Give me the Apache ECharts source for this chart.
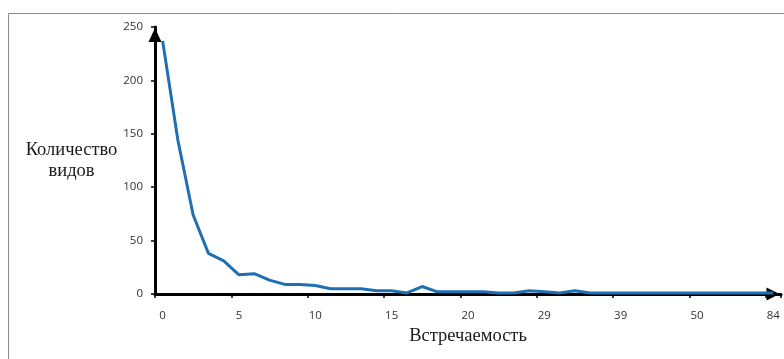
<!DOCTYPE html>
<html><head><meta charset="utf-8">
<script src="https://cdn.jsdelivr.net/npm/echarts@6/dist/echarts.min.js"></script>
<style>html,body{margin:0;padding:0;background:#fff}#c{width:784px;height:359px}</style>
</head><body><div id="c"></div>
<script>
var categories = ['0','1','2','3','4','5','6','7','8','9','10','11','12','13','14','15','16','17','18','19','20',
  '21','23','25','27','29','31','33','35','37','39','41','43','45','48','50','55','60','65','70','84'];
var values = [237,144,74,38,31,18,19,13,9,9,8,5,5,5,3,3,1,7,2,2,2,2,1,1,3,2,1,3,1,1,1,1,1,1,1,1,1,1,1,1,1];
var yTicks = [0,50,100,150,200,250];
var xName = 'Встречаемость';
var yName = 'Количество\nвидов';

var chart = echarts.init(document.getElementById('c'), null, {renderer:'canvas'});
chart.setOption({
  animation:false,
  backgroundColor:'#ffffff',
  graphic:[{type:'rect', shape:{x:8.5,y:13.5,width:800,height:400}, style:{fill:'none', stroke:'#8a8a8a', lineWidth:1}, silent:true}],
  grid:{left:155, right:3, top:27, bottom:65, containLabel:false},
  xAxis:{
    type:'category', data:categories, boundaryGap:true,
    axisLine:{show:true, lineStyle:{color:'#000', width:3}, symbol:['none','triangle'], symbolSize:[13,13], symbolOffset:[0,-8]},
    axisTick:{show:true, interval:4, length:4, lineStyle:{color:'#000', width:1.5}},
    axisLabel:{interval:4, margin:16, color:'#333', fontFamily:'Open Sans, Liberation Sans, sans-serif', fontSize:11.5},
    name:xName, nameLocation:'middle', nameGap:32,
    nameTextStyle:{fontFamily:'Liberation Serif, Times New Roman, serif', fontSize:18.5, color:'#1a1a1a'},
    splitLine:{show:false}
  },
  yAxis:{
    type:'value', min:yTicks[0], max:yTicks[yTicks.length-1], interval:50,
    axisLine:{show:true, lineStyle:{color:'#000', width:3}, symbol:['none','triangle'], symbolSize:[13,14], symbolOffset:[0,-8]},
    axisTick:{show:true, length:4, lineStyle:{color:'#000', width:1.5}},
    axisLabel:{margin:12, color:'#333', fontFamily:'Open Sans, Liberation Sans, sans-serif', fontSize:11.5},
    splitLine:{show:false},
    name:yName, nameLocation:'middle', nameRotate:0, nameGap:83,
    nameTextStyle:{fontFamily:'Liberation Serif, Times New Roman, serif', fontSize:18.5, color:'#1a1a1a', align:'center', lineHeight:21, padding:[6,0,0,0]}
  },
  series:[{
    type:'line', data:values, symbol:'none', smooth:false,
    lineStyle:{color:'#1f6fb2', width:3}, z:5
  }]
});
</script></body></html>
